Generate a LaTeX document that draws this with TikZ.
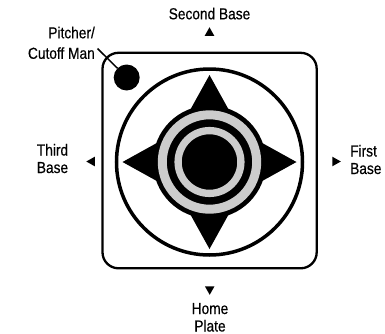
\documentclass[tikz,border=0pt]{standalone}
\usepackage{fontspec}
\setmainfont{Liberation Sans}[FakeStretch=0.86,FakeBold=0.4]
\begin{document}
\begin{tikzpicture}[x=1bp,y=-1bp,
  lbl/.style={inner sep=0pt, font=\fontsize{16}{17}\selectfont},
  marker/.style={fill=black, draw=none},
  ring/.style={draw=black!20}]
\useasboundingbox (0,0) rectangle (385,334);
% frame
\draw[line width=2.3bp, rounded corners=16bp] (102.5,52.8) rectangle (316.7,268.3);
\coordinate (c) at (209.5,162);
% big circle
\draw[line width=3.5bp] (c) circle[radius=93];
% star
\fill ([shift={(0,-87)}]c) -- ([shift={(31,-31)}]c) -- ([shift={(87,0)}]c) -- ([shift={(31,31)}]c)
  -- ([shift={(0,87)}]c) -- ([shift={(-31,31)}]c) -- ([shift={(-87,0)}]c) -- ([shift={(-31,-31)}]c) -- cycle;
% disk and rings
\fill (c) circle[radius=56.5];
\draw[ring, line width=9bp] (c) circle[radius=47.2];
\draw[ring, line width=7.3bp] (c) circle[radius=31.4];
% pitcher dot
\node[circle, fill=black, minimum size=26bp, inner sep=0pt] (dot) at (126.7,77.5) {};
\coordinate (lead) at (97.5,48.5);
\draw[line width=1.5bp] (lead) -- (dot.135);
% labels
\node[lbl, anchor=base] (sb) at (209.5,19.3) {Second Base};
\fill[marker] (204.7,35.8) -- (214.3,35.8) -- (209.5,27.3) -- cycle;
\node[lbl, anchor=base east] (p1) at (95,38.3) {Pitcher/};
\node[lbl, anchor=base east] (p2) at (95,58.8) {Cutoff Man};
\node[lbl, anchor=base] (t1) at (52.5,155.5) {Third};
\node[lbl, anchor=base] (t2) at (52.5,173) {Base};
\fill[marker] (86.3,161.5) -- (94.8,156.7) -- (94.8,166.3) -- cycle;
\node[lbl, anchor=base west] (f1) at (350,156.5) {First};
\node[lbl, anchor=base west] (f2) at (350,174) {Base};
\fill[marker] (340.8,161.5) -- (332.3,156.7) -- (332.3,166.3) -- cycle;
\fill[marker] (204.9,286.3) -- (214.5,286.3) -- (209.7,294.8) -- cycle;
\node[lbl, anchor=base] (h1) at (210,314) {Home};
\node[lbl, anchor=base] (h2) at (210,331.5) {Plate};
\end{tikzpicture}
\end{document}
